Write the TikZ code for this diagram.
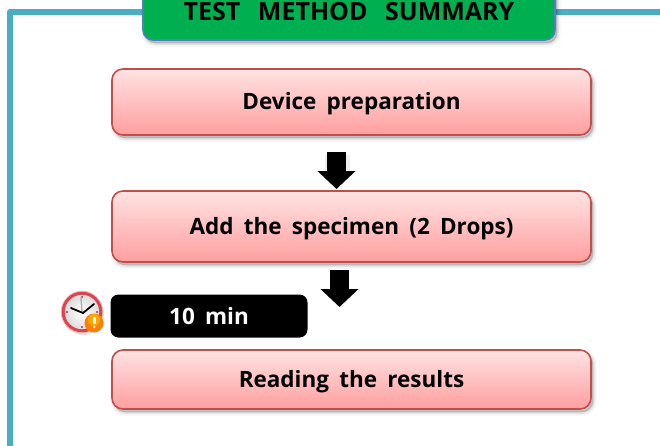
\documentclass[tikz,border=0pt]{standalone}
\usepackage{fontspec}
\setmainfont[WordSpace=1.75]{Open Sans}
\newfontfamily\headfont[WordSpace=2.7]{Open Sans}
\usetikzlibrary{arrows.meta}
\definecolor{frameteal}{HTML}{4BACC6}
\definecolor{headgreen}{HTML}{00B050}
\definecolor{headedge}{HTML}{4F81BD}
\definecolor{boxedge}{HTML}{C0504D}
\definecolor{boxtop}{HTML}{FFE3E3}
\definecolor{boxbot}{HTML}{FF9E9E}
\definecolor{clockring}{HTML}{DA4550}
\tikzset{
  softshadow/.style={
    preaction={draw=black,fill=black,draw opacity=.04,fill opacity=.04,line width=7pt,transform canvas={shift={(2pt,-3pt)}}},
    preaction={draw=black,fill=black,draw opacity=.06,fill opacity=.06,line width=4pt,transform canvas={shift={(2pt,-3pt)}}},
    preaction={draw=black,fill=black,draw opacity=.08,fill opacity=.08,line width=1pt,transform canvas={shift={(2pt,-3pt)}}}},
  stagebox/.style={softshadow,draw=boxedge,line width=1.6pt,rounded corners=11pt,top color=boxtop,bottom color=boxbot,
    minimum width=479pt,inner sep=0pt,text height=19pt,text depth=4pt,font=\fontsize{22.5}{26}\selectfont\bfseries,text=black,anchor=center},
  headbox/.style={softshadow,draw=headedge,line width=1.6pt,rounded corners=10pt,fill=headgreen,
    minimum width=412pt,minimum height=62pt,inner sep=0pt,text height=24pt,text depth=2pt,font=\headfont\fontsize{25}{28}\selectfont\bfseries,text=black},
  timebox/.style={fill=black,rounded corners=8pt,minimum width=197pt,minimum height=43pt,inner sep=0pt,
    font=\fontsize{22.5}{26}\selectfont\bfseries,text=white},
  flowarrow/.style={line width=19pt,black,-{Triangle[width=37pt,length=18pt]}},
}
\begin{document}
\begin{tikzpicture}[x=1pt,y=-1pt]
\useasboundingbox (0,0) rectangle (660,445);
\fill[white] (0,0) rectangle (660,445);
% frame
\draw[frameteal,line width=6pt,line join=round] (10,460) -- (10,12) -- (670,12);
% header
\begin{scope}
\clip (0,0) rectangle (660,445);
\node[headbox] (head) at (349,9) {TEST METHOD SUMMARY};
\end{scope}
% boxes
\node[stagebox,minimum height=66pt] (prep) at (351.5,102) {Device preparation};
\node[stagebox,minimum height=71pt] (add) at (351.5,226.5) {Add the specimen (2 Drops)};
\node[stagebox,minimum height=59pt] (read) at (351.5,379.5) {Reading the results};
\node[timebox] (time) at (209,316) {10 min};
% arrows
\coordinate (a1s) at (336.5,152);
\coordinate (a1e) at (336.5,189);
\coordinate (a2s) at (339.5,270);
\coordinate (a2e) at (339.5,307);
\fill[black,opacity=.06] (325,155) rectangle (350,178);
\draw[flowarrow] (a1s) -- (a1e);
\draw[flowarrow] (a2s) -- (a2e);
% clock icon
\fill[black,opacity=.10] (83,314) circle (21);
\shade[inner color=white,outer color=gray!30] (82,312) circle (19);
\draw[clockring,line width=3.4pt] (82,312) circle (19);
\draw[red!30!white,line width=.8pt] (82,312) circle (20.8);
\foreach \a in {0,90,180,270}
  \fill[purple!60!gray] ({82+15*cos(\a)},{312+15*sin(\a)}) circle (1.2);
\draw[gray!60,line width=1.5pt] (82,312) -- (81,297);
\draw[black,line width=1.8pt,line cap=round] (71,308) -- (83,313) -- (94,304);
\fill[orange] (94,323) circle (9.5);
\fill[orange!70!yellow] (94,320) circle (6);
\fill[white] (93,317) rectangle (95.5,324);
\fill[white] (94.2,327) circle (1.4);
\end{tikzpicture}
\end{document}
